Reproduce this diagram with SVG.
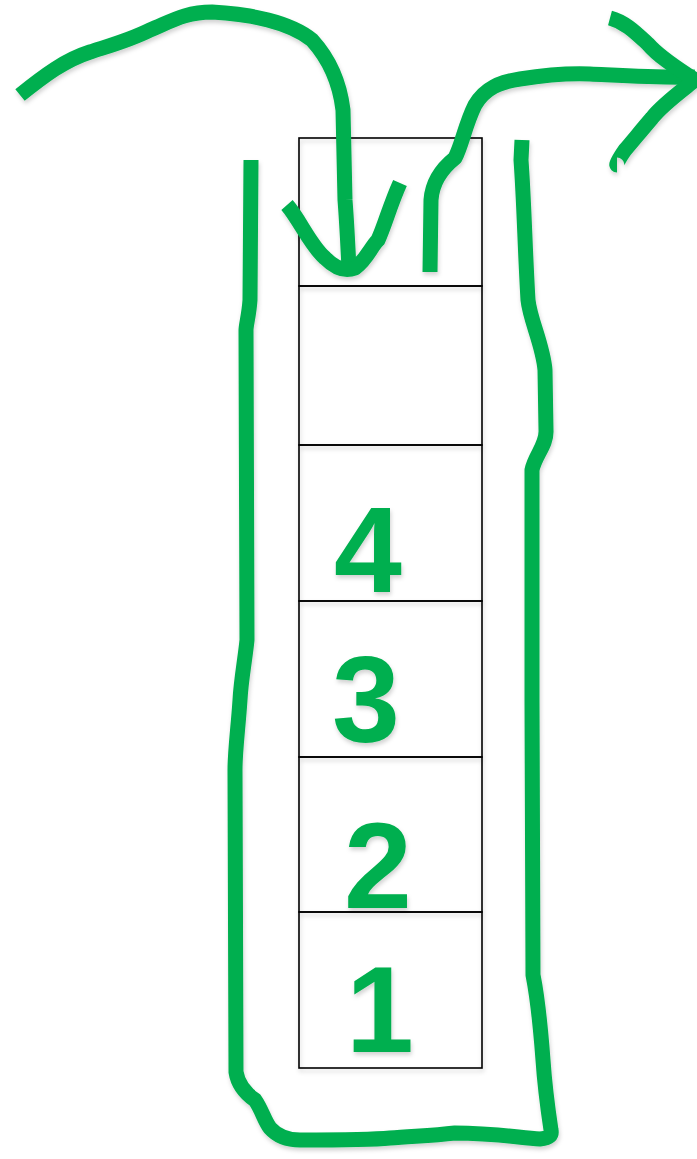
<svg xmlns="http://www.w3.org/2000/svg" width="697" height="1159" viewBox="0 0 697 1159">
<style>
.cell{fill:none;stroke:#000;stroke-width:1.6}
.ink{fill:none;stroke:#00AF4F;stroke-width:15;stroke-linejoin:round;stroke-linecap:butt}
.dig{fill:#00AF4F;font-family:"Liberation Sans",Arial,sans-serif;font-size:122px;font-weight:bold;text-anchor:middle}
</style>
<defs>
<filter id="sh" x="-10%" y="-10%" width="120%" height="120%">
<feDropShadow dx="1" dy="3" stdDeviation="2" flood-color="#000" flood-opacity="0.18"/>
</filter>
</defs>
<rect width="697" height="1159" fill="#fff"/>
<g id="stack" filter="url(#sh)">
<g id="cell6"><rect class="cell" x="299" y="138" width="183" height="148"/></g>
<g id="cell5"><rect class="cell" x="299" y="286" width="183" height="159"/></g>
<g id="cell4"><rect class="cell" x="299" y="445" width="183" height="156"/></g>
<g id="cell3"><rect class="cell" x="299" y="601" width="183" height="156"/></g>
<g id="cell2"><rect class="cell" x="299" y="757" width="183" height="155"/></g>
<g id="cell1"><rect class="cell" x="299" y="912" width="183" height="156"/></g>
</g>
<g id="labels" filter="url(#sh)">
<text class="dig" x="368" y="592">4</text>
<text class="dig" x="366" y="742">3</text>
<text class="dig" x="378" y="908">2</text>
<text class="dig" x="380" y="1052">1</text>
</g>
<g id="connectors" filter="url(#sh)">
<path class="ink" d="M20,95 C45,75 65,60 90,52 C115,44 130,40 150,30 C170,22 185,12 212,12 C250,14 290,22 312,40 C332,62 340,85 343,110 L345,200 C347,225 348,250 349,268"/>
<path class="ink" stroke-linecap="round" d="M287,205 C300,220 310,245 325,258 C335,268 345,272 355,268 C368,258 370,248 378,240 C385,225 390,205 400,183"/>
<path class="ink" d="M430,272 L431,200 C432,185 440,170 455,158 C462,145 465,125 475,105 C485,88 500,82 520,79 C545,75 565,73 590,74 C630,76 660,78 695,77"/>
<path class="ink" stroke-linecap="round" d="M610,18 C625,22 635,32 648,44 C660,58 680,70 695,80 C680,92 662,105 652,118 C640,132 632,142 625,150 C618,160 616,165 617,165"/>
<path class="ink" d="M251,160 L250,300 C249,315 246,325 246,330 L247,640 C245,660 241,680 240,700 C238,730 235,750 235,770 L236,1072 C238,1085 245,1093 255,1100 C262,1110 264,1120 270,1128 C278,1137 290,1140 300,1140 C340,1140 370,1140 390,1138 C410,1136 430,1136 455,1133 C490,1133 515,1137 540,1139 C550,1138 552,1135 551,1130 C548,1110 545,1090 543,1060 C540,1020 538,1000 533,975 L532,700 L532,470 C535,455 547,445 546,430 L545,370 C543,345 530,320 528,300 C525,250 524,200 521,160 L522,140"/>
</g>
</svg>
